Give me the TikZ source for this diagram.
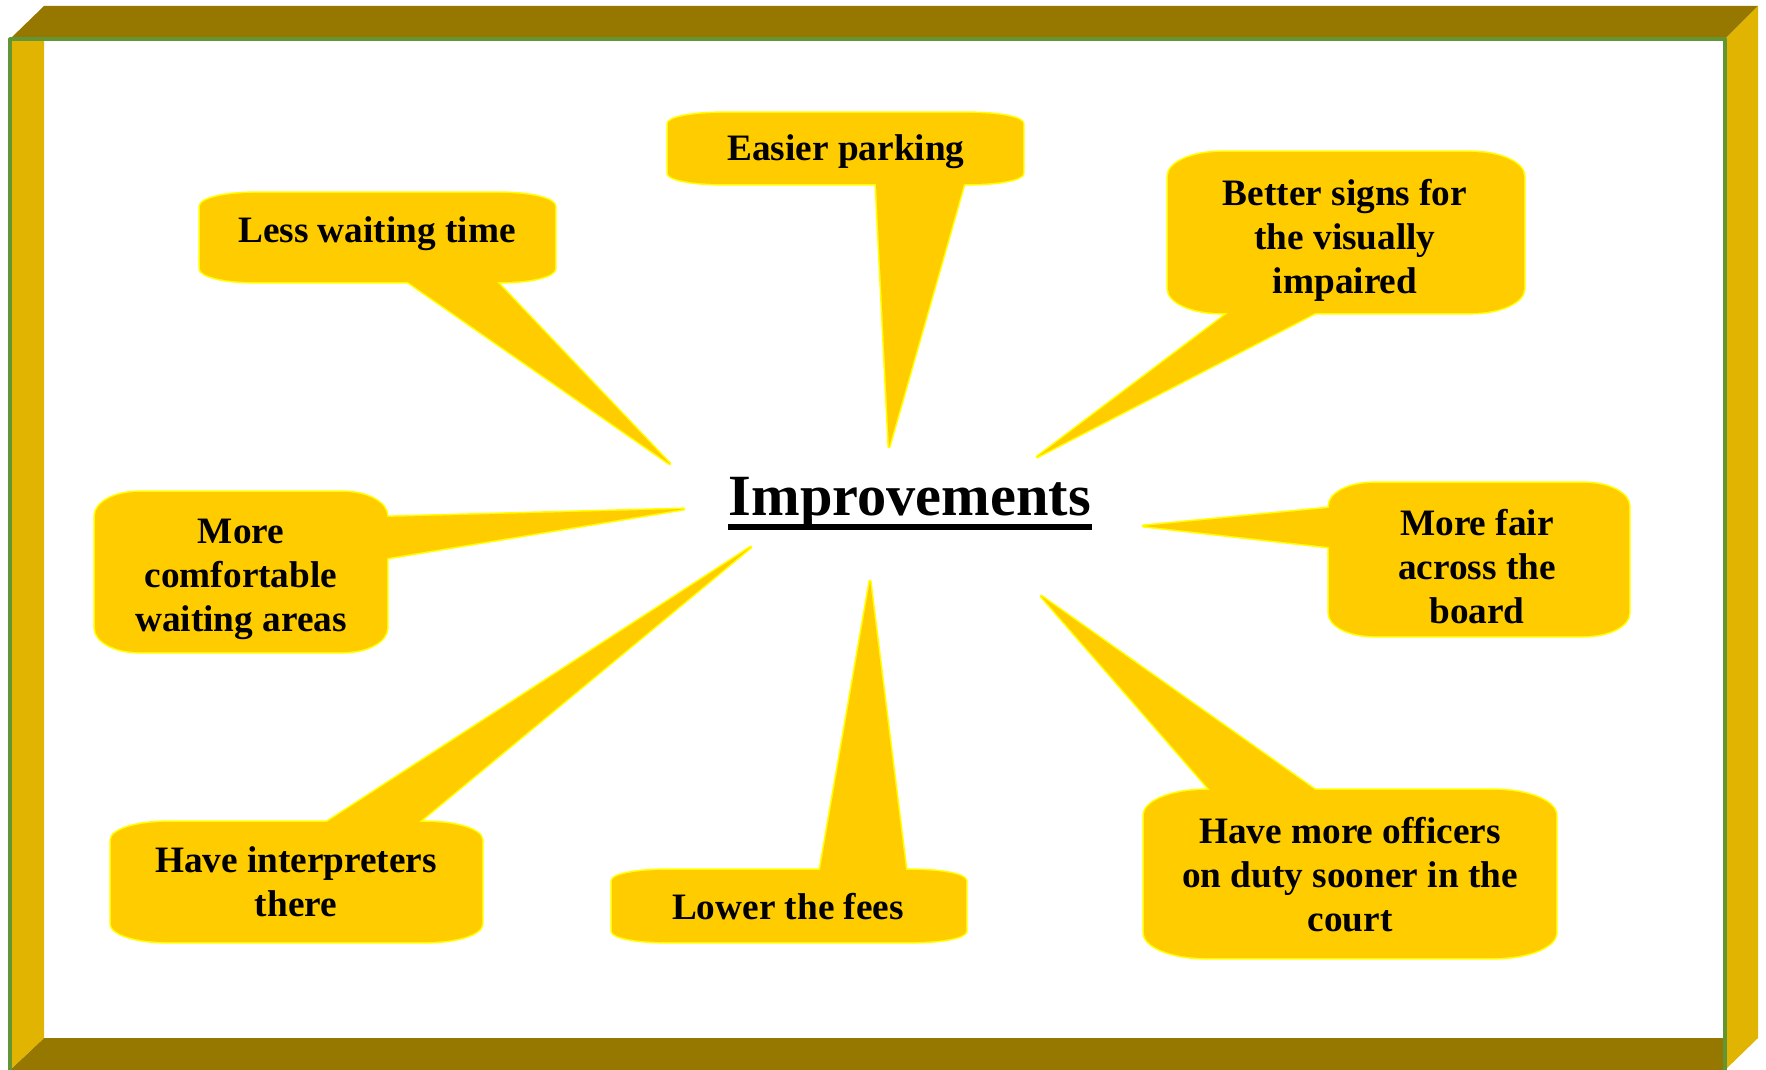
\documentclass[tikz,border=0pt]{standalone}
\usepackage{fontspec}
\setmainfont{Liberation Serif}
\usepackage{tikz}
\usetikzlibrary{calc}
\usepackage{xcolor}
\definecolor{frameolive}{RGB}{150,120,0}
\definecolor{framegold}{RGB}{224,180,0}
\definecolor{framegreen}{RGB}{98,150,52}
\definecolor{bubblegold}{RGB}{255,204,0}
\definecolor{bubblerim}{RGB}{255,255,0}
\tikzset{rim/.style={draw=bubblerim,line width=0.9pt,line join=round},
  body/.style={fill=bubblegold},
  say/.style={align=center,inner sep=0pt,font=\bfseries\fontsize{10.6}{12.5}\selectfont}}
% box corners x1,y1,x2,y2 and tail base/tip/base
\newcommand{\bubble}[7]{%
  \pgfmathsetmacro\rx{0.15*(#3-#1)}\pgfmathsetmacro\ry{0.15*(#4-#2)}%
  \foreach \st in {rim,body}{%
    \path[\st] ({#1+\rx},#2) -- ({#3-\rx},#2) .. controls ({#3-0.45*\rx},#2) and (#3,{#2+0.45*\ry}) .. (#3,{#2+\ry})
      -- (#3,{#4-\ry}) .. controls (#3,{#4-0.45*\ry}) and ({#3-0.45*\rx},#4) .. ({#3-\rx},#4)
      -- ({#1+\rx},#4) .. controls ({#1+0.45*\rx},#4) and (#1,{#4-0.45*\ry}) .. (#1,{#4-\ry})
      -- (#1,{#2+\ry}) .. controls (#1,{#2+0.45*\ry}) and ({#1+0.45*\rx},#2) .. ({#1+\rx},#2) -- cycle;
    \path[\st] #5 -- #6 -- #7 -- cycle;
  }}

\begin{document}
\begin{tikzpicture}[x=0.01cm,y=-0.01cm,line join=round]
  \useasboundingbox (0,0) rectangle (1766,1070);
  % bevelled frame
  \fill[frameolive] (10,39) -- (44,6) -- (1758,6) -- (1725,39) -- cycle;
  \fill[frameolive] (44,1038) -- (1725,1038) -- (1725,1070) -- (10,1070) -- cycle;
  \fill[framegold] (10,39) -- (44,39) -- (44,1038) -- (10,1070) -- cycle;
  \fill[framegold] (1725,39) -- (1758,6) -- (1758,1038) -- (1725,1070) -- cycle;
  \draw[framegreen,line width=0.9pt] (10,1070) -- (10,39) -- (1725,39) -- (1725,1070);
  % callouts
  \bubble{200}{193}{555}{282}{(408,282)}{(670,464)}{(497,282)}
  \bubble{668}{113}{1023}{184}{(876,184)}{(889,447)}{(964,184)}
  \bubble{1168}{152}{1524}{313}{(1228,313)}{(1037,457)}{(1315,313)}
  \bubble{95}{492}{387}{652}{(387,517)}{(684,509)}{(387,558)}
  \bubble{1329}{483}{1629}{636}{(1329,508)}{(1143,526)}{(1329,547)}
  \bubble{111}{822}{482}{942}{(327,822)}{(751,547)}{(419,822)}
  \bubble{612}{870}{966}{942}{(820,870)}{(870,581)}{(906,870)}
  \bubble{1144}{790}{1556}{958}{(1210,790)}{(1041,596)}{(1315,790)}
  \node[say] (less) at (377,234) {Less waiting time};
  \node[say] (parking) at (846,152) {Easier parking};
  \node[say] (signs) at (1345,240) {Better signs for\\the visually\\impaired};
  \node[say] (comfort) at (241,579) {More\\comfortable\\waiting areas};
  \node[say] (fair) at (1477,567) {More fair\\across the\\board};
  \node[say] (interp) at (296,882) {Have interpreters\\there};
  \node[say] (fees) at (788,907) {Lower the fees};
  \node[say] (officers) at (1350,875) {Have more officers\\on duty sooner in the\\court};
  \node[inner sep=0pt,anchor=base,font=\bfseries\fontsize{16.6}{19}\selectfont] (imp) at (910,515) {Improvements};
  \draw[line width=1.7pt] ([yshift=-0.12cm]imp.base west) -- ([yshift=-0.12cm]imp.base east);
\end{tikzpicture}
\end{document}
